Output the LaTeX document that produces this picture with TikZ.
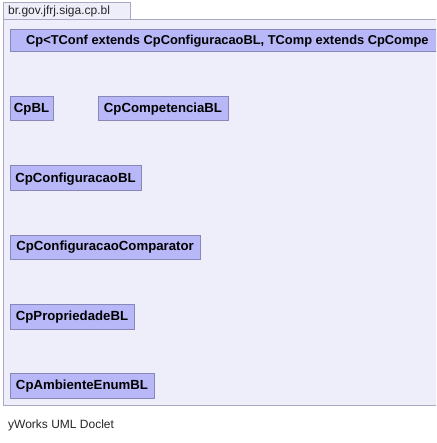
\documentclass[tikz,border=0pt]{standalone}
\usepackage{fontspec}
\setmainfont{Liberation Sans}
\begin{document}
\begin{tikzpicture}[x=1pt,y=-1pt,
  pkgline/.style={draw=pkgborder,line width=1pt},
  classbox/.style={draw=boxborder,fill=boxfill,line width=1pt},
  classlabel/.style={font=\fontsize{13.2}{15}\selectfont\bfseries,text=black,inner sep=0pt},
  tablabel/.style={font=\fontsize{12}{14}\selectfont,text=black!85,inner sep=0pt,anchor=west},
]
\definecolor{pkgbg}{HTML}{EEEEFA}
\definecolor{pkgborder}{HTML}{A8A8C0}
\definecolor{boxfill}{HTML}{B8B8F8}
\definecolor{boxborder}{HTML}{8888B8}
\clip (0,0) rectangle (436,443);
\fill[white] (0,0) rectangle (436,443);
% tab
\fill[pkgbg] (3,3) rectangle (130,20);
\draw[pkgline] (3,20) -- (3,3) -- (130,3) -- (130,20);
\node[tablabel] (tab) at (8,11.5) {br.gov.jfrj.siga.cp.bl};
% package body
\fill[pkgbg] (3,20) rectangle (440,405);
\draw[pkgline] (440,20) -- (3,20) -- (3,405) -- (440,405);
% header
\draw[classbox] (10,30) rectangle (440,52);
\node[classlabel,anchor=west,font=\fontsize{12.85}{15}\selectfont\bfseries] (hdr) at (26,41) {Cp<TConf extends CpConfiguracaoBL, TComp extends CpCompe};
% classes
\draw[classbox] (10,97) rectangle (53,121);
\node[classlabel] (cpbl) at (31.5,109.5) {CpBL};
\draw[classbox] (98,97) rectangle (228,121);
\node[classlabel] (comp) at (163,109.5) {CpCompetenciaBL};
\draw[classbox] (10,166) rectangle (141,191);
\node[classlabel] (conf) at (75.5,179) {CpConfiguracaoBL};
\draw[classbox] (10,235) rectangle (200,259);
\node[classlabel] (comparator) at (105,247.5) {CpConfiguracaoComparator};
\draw[classbox] (10,304) rectangle (134,329);
\node[classlabel] (prop) at (72,317) {CpPropriedadeBL};
\draw[classbox] (10,373) rectangle (154,398);
\node[classlabel] (amb) at (82,386) {CpAmbienteEnumBL};
% footer
\node[tablabel] (footer) at (8,425) {yWorks UML Doclet};
\end{tikzpicture}
\end{document}
